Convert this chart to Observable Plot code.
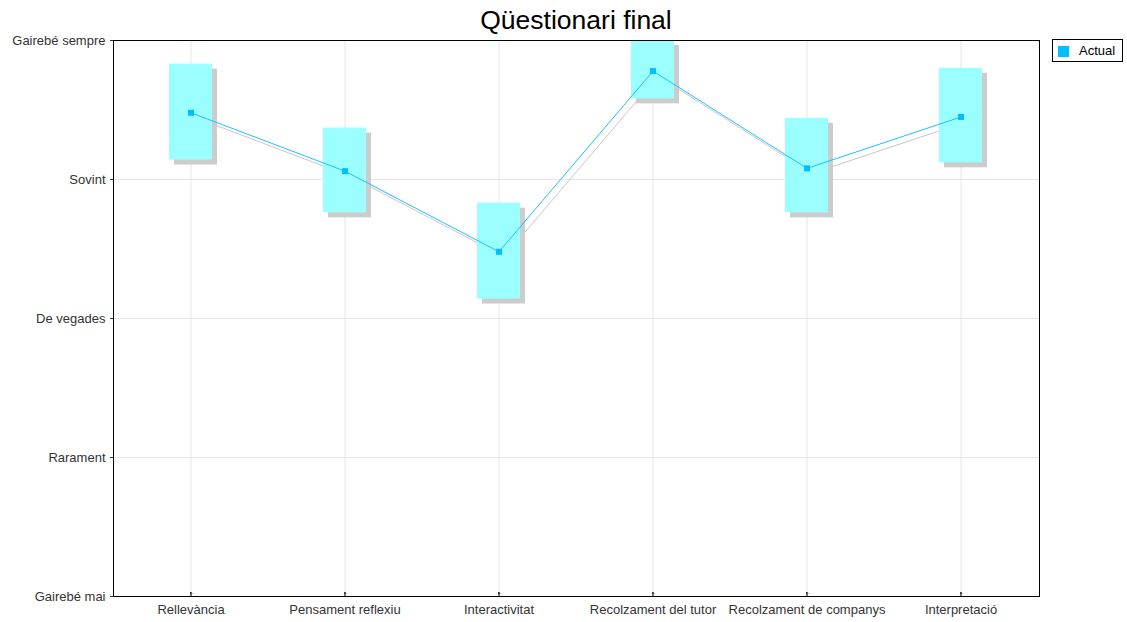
<!DOCTYPE html>
<html>
<head>
<meta charset="utf-8">
<script src="https://cdn.jsdelivr.net/npm/d3@7"></script>
<script src="https://cdn.jsdelivr.net/npm/@observablehq/plot@0.6"></script>
<style>
  html, body { margin: 0; padding: 0; background: #fff; }
  body { width: 1127px; height: 622px; position: relative; overflow: hidden; font-family: "Liberation Sans", Arial, sans-serif; }
  #title { position: absolute; left: 113px; width: 926px; top: 5px; text-align: center; font-size: 26.5px; line-height: 30px; color: #000; }
  #legend { position: absolute; left: 1052px; top: 39px; width: 69px; height: 21px; border: 1px solid #000; background: #fff; font-size: 13px; color: #000; }
  #legend .sw { position: absolute; left: 5px; top: 6px; width: 11px; height: 11px; background: #00bfff; }
  #legend .lb { position: absolute; left: 26px; top: 3px; }
  #chart { position: absolute; left: 0; top: 0; }
</style>
</head>
<body>
<div id="chart"></div>
<div id="title">Qüestionari final</div>
<div id="legend"><div class="sw"></div><div class="lb">Actual</div></div>
<script>
const categories = ["Rellevància", "Pensament reflexiu", "Interactivitat", "Recolzament del tutor", "Recolzament de companys", "Interpretació"];
const actual = [4.48, 4.06, 3.48, 4.78, 4.08, 4.45];
const upper  = [4.83, 4.37, 3.83, 5.00, 4.44, 4.80];
const lower  = [4.14, 3.76, 3.14, 4.58, 3.76, 4.12];
const yLevels = [1, 2, 3, 4, 5];
const yLabels = ["Gairebé mai", "Rarament", "De vegades", "Sovint", "Gairebé sempre"];

const data = categories.map((c, i) => ({cat: c, v: actual[i], hi: upper[i], lo: lower[i]}));

const chart = Plot.plot({
  width: 1127,
  height: 622,
  marginLeft: 113,
  marginRight: 88,
  marginTop: 40,
  marginBottom: 26,
  style: {fontFamily: "Liberation Sans, Arial, sans-serif", fontSize: "13px", color: "#333", background: "transparent"},
  x: {type: "band", domain: categories, paddingInner: 0.72, paddingOuter: 0.36},
  y: {domain: [1, 5]},
  marks: [
    Plot.gridX(categories, {stroke: "#e6e6e6", strokeOpacity: 1}),
    Plot.gridY(yLevels, {stroke: "#e6e6e6", strokeOpacity: 1}),
    Plot.line(data, {x: "cat", y: "v", stroke: "#c8c8c8", strokeWidth: 1, dx: 5, dy: 5}),
    Plot.barY(data, {x: "cat", y1: "lo", y2: "hi", fill: "#cccccc", dx: 5, dy: 5}),
    Plot.barY(data, {x: "cat", y1: "lo", y2: "hi", fill: "#9bffff"}),
    Plot.line(data, {x: "cat", y: "v", stroke: "#1ec0ff", strokeWidth: 1}),
    Plot.dot(data, {x: "cat", y: "v", symbol: "square", r: 3.4, fill: "#00bfff", stroke: null}),
    Plot.vector(categories, {x: d => d, y: () => 1, length: 4, anchor: "start", stroke: "#000", strokeWidth: 1}),
    Plot.axisX({tickSize: 0, tickPadding: 8, label: null, fill: "#333"}),
    Plot.axisY(yLevels, {tickSize: 3, tickPadding: 5, tickFormat: d => yLabels[yLevels.indexOf(d)], label: null, fill: "#333"}),
    Plot.frame({stroke: "#000", strokeWidth: 1})
  ]
});
document.getElementById("chart").appendChild(chart);
</script>
</body>
</html>
